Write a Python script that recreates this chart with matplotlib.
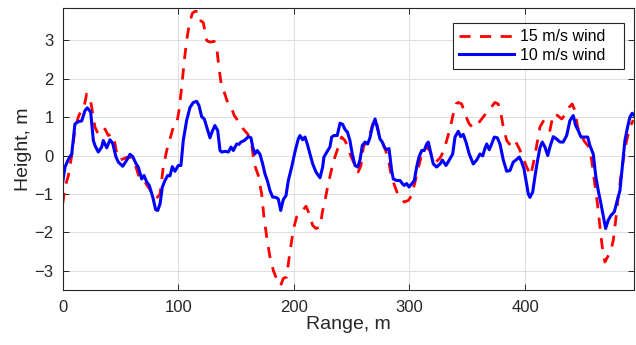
import numpy as np
import matplotlib
matplotlib.use("Agg")
import matplotlib.pyplot as plt

plt.rcParams['font.family'] = ['Liberation Sans', 'DejaVu Sans']

# 10 m/s wind profile (solid blue)
range_10 = [0, 2, 4.9, 7.8, 10.6, 13.5, 16.4, 19.3, 21.3, 24.2, 26.5, 27.9, 30.8, 33.7, 35.1, 38.1,
            40.9, 43.2, 46.1, 48.1, 51.9, 55.4, 58.2, 60.6, 63.4, 65.4, 68.3, 70.3, 72.7, 74.9,
            77.9, 80.4, 82.2, 84.2, 86.2, 88.5, 90.8, 92.8, 94.8, 97.1, 100, 102.3, 104.3, 107.2,
            110.1, 113, 115.9, 117.9, 120.2, 122.5, 124.6, 127.4, 129.4, 131.7, 134.1, 136.1,
            137.5, 140.4, 143.3, 145.6, 147.6, 150.5, 152.5, 154.2, 157.1, 160.6, 162.9, 164.4,
            166.3, 168.3, 170.7, 173, 175, 177, 179.3, 181.6, 184.5, 186.5, 188.6, 190.8, 193.2,
            195.2, 198.1, 200.9, 203.8, 205.3, 207.6, 209.6, 211.6, 213.9, 216.3, 219.1, 222.6,
            224.9, 226, 228.9, 231.2, 232.7, 234.7, 237.5, 239.9, 242.2, 244.2, 246.3, 248.5,
            250.5, 252.9, 255.2, 257.2, 259.2, 261.5, 263.8, 265.8, 267.8, 270.2, 272.5, 274.5,
            276.5, 278.2, 280.3, 282.3, 284.6, 286, 288.9, 291.8, 293.8, 295.5, 297.6, 299.6,
            301.9, 304.2, 306.2, 308.2, 310.6, 312.8, 314.9, 316.3, 318.6, 320.6, 323.5, 326.4,
            328.5, 331.6, 334.4, 337.4, 339.4, 342.2, 344.3, 346.5, 348.9, 351.7, 355.2, 358.1,
            361, 363.3, 365.3, 366.8, 369, 371.1, 373.4, 376, 378.3, 381.2, 384.1, 387, 389.8,
            392.1, 395, 397.1, 399.1, 400.8, 402.8, 404.2, 406.6, 408.6, 410.7, 412.9, 414.9,
            417.2, 419.6, 421.5, 424.4, 427.3, 430.2, 433, 436, 438.8, 441.7, 443.8, 446, 448.4,
            451.2, 454.2, 456.1, 459, 461.1, 463.3, 465.7, 467.6, 469.7, 471.9, 474.3, 477.2,
            480.1, 482.1, 484.1, 486.4, 488.7, 490.7, 492.7, 494.5]
height_10 = [-0.69, -0.30, -0.1, 0.04, 0.82, 0.88, 0.9, 1.17, 1.24, 1.13, 0.39, 0.26, 0.09, 0.22,
             0.39, 0.2, 0.41, 0.32, -0.04, -0.17, -0.28, -0.12, 0.03, -0.03, -0.21, -0.3, -0.61,
             -0.52, -0.69, -0.78, -1.08, -1.41, -1.43, -1.26, -0.82, -0.65, -0.52, -0.53, -0.29,
             -0.41, -0.26, -0.26, 0.39, 0.91, 1.25, 1.38, 1.41, 1.3, 1.01, 0.95, 0.74, 0.46, 0.63,
             0.78, 0.65, 0.13, 0.09, 0.11, 0.09, 0.22, 0.13, 0.3, 0.29, 0.35, 0.39, 0.49, 0.46,
             0.22, 0.04, 0.13, 0.03, -0.22, -0.48, -0.65, -0.91, -1.08, -1.09, -1.13, -1.43,
             -1.15, -1.04, -0.65, -0.3, 0.09, 0.43, 0.52, 0.41, 0.48, 0.3, 0.04, -0.22, -0.43,
             -0.58, -0.3, -0.04, 0.11, 0.22, 0.48, 0.52, 0.52, 0.84, 0.81, 0.68, 0.61, 0.39, 0.04,
             -0.26, -0.3, -0.12, 0.26, 0.35, 0.3, 0.46, 0.74, 0.95, 0.69, 0.43, 0.35, 0.22, 0.15,
             0.18, -0.39, -0.61, -0.65, -0.65, -0.73, -0.78, -0.73, -0.82, -0.74, -0.65, -0.3,
             -0.04, 0.13, 0.13, 0.3, 0.35, 0.04, -0.22, -0.3, -0.22, -0.12, -0.26, -0.12, 0.04,
             0.48, 0.63, 0.49, 0.55, 0.35, 0.04, -0.22, -0.12, 0.04, -0.01, 0.18, 0.3, 0.15, 0.3,
             0.48, 0.46, 0.3, -0.12, -0.41, -0.39, -0.17, -0.12, -0.04, -0.17, -0.35, -0.65, -1.0,
             -1.09, -0.95, -0.54, -0.15, 0.2, 0.35, 0.22, 0.0, 0.22, 0.49, 0.43, 0.35, 0.35, 0.52,
             0.91, 1.04, 0.78, 0.65, 0.48, 0.48, 0.48, 0.26, 0.04, -0.52, -0.91, -1.26, -1.56,
             -1.9, -1.69, -1.56, -1.47, -1.13, -0.91, -0.3, 0.39, 0.74, 1.0, 1.1, 1.04]

# 15 m/s wind profile (dashed red)
range_15 = [0, 2, 4.9, 7.8, 10.6, 13.5, 16.4, 18.4, 20.7, 23.6, 26, 27.9, 30.8, 33.7, 36.6, 39.4,
            42.3, 44.3, 46.7, 49.6, 55.4, 59.7, 63.4, 66.9, 71.2, 74, 78, 81, 84.2, 87, 90, 92.8,
            95.7, 98.6, 100.6, 102.9, 105.2, 107.2, 109.5, 112.1, 114.4, 117.3, 119.6, 121.6,
            124.6, 127.4, 131.1, 133.2, 135.2, 137.5, 139.8, 142.7, 145.6, 148.4, 152.5, 156.2,
            160, 163.5, 165.7, 169.2, 172.1, 174.1, 176.5, 179.3, 182.2, 186.5, 188.6, 190.8,
            193.7, 196, 198.1, 200.1, 202.4, 205.3, 208.1, 210.5, 213.3, 216.3, 219.1, 222.6,
            224.9, 226.9, 229.7, 232.7, 235.5, 238.4, 241.3, 244.2, 247, 249.1, 252.9, 255.6, 258,
            260.1, 263, 265.8, 268.7, 270.8, 273.6, 276.5, 279.4, 281.7, 284, 286, 289.8, 293.3,
            295.5, 299, 301.9, 304.8, 307.1, 310, 312.8, 316.3, 319.7, 322.7, 326.4, 329.2, 332.2,
            335, 337.9, 340.2, 342.2, 345.2, 348, 351.7, 355.2, 358.1, 362.4, 366.8, 371.1, 373.9,
            376.8, 378.9, 381.2, 384.1, 387.5, 391.3, 395, 397.9, 401.4, 404.8, 407.1, 410, 412.9,
            415.7, 418.6, 421.5, 424.4, 428.2, 431.7, 435.1, 438, 440.8, 443.2, 445.5, 448.4,
            451.8, 455.3, 457.6, 459.9, 462.8, 464.8, 466.8, 469.1, 471.4, 474.3, 476.3, 478.4,
            480.6, 482.9, 485.3, 487.9, 490.7, 493.6]
height_15 = [-1.26, -0.82, -0.52, 0, 0.69, 1.0, 1.21, 1.26, 1.6, 1.52, 1.08, 0.74, 0.55, 0.56,
             0.69, 0.52, 0.56, 0.48, 0.04, -0.12, -0.05, -0.05, -0.3, -0.65, -0.69, -0.82, -1.0,
             -1.12, -1.0, -0.3, 0.13, 0.43, 0.74, 0.82, 1.17, 1.77, 2.47, 2.99, 3.42, 3.7, 3.75,
             3.75, 3.5, 3.46, 2.99, 2.95, 2.97, 2.81, 2.29, 1.77, 1.64, 1.38, 1.27, 1.04, 0.87,
             0.69, 0.56, 0.3, -0.22, -0.52, -1.0, -1.6, -2.12, -2.64, -2.99, -3.33, -3.38, -3.2,
             -3.16, -2.64, -2.21, -1.86, -1.6, -1.47, -1.41, -1.32, -1.52, -1.82, -1.9, -1.86,
             -1.43, -1.17, -0.74, -0.35, -0.04, 0.22, 0.48, 0.39, 0.2, 0, -0.26, -0.43, -0.26, 0.22,
             0.39, 0.56, 0.87, 0.95, 0.56, 0.35, 0.13, -0.09, -0.48, -0.69, -1.0, -1.13, -1.21,
             -1.17, -1.04, -0.69, -0.39, -0.04, 0, 0.22, -0.04, -0.17, -0.07, 0.09, 0.39, 0.69,
             1.08, 1.34, 1.38, 1.34, 1.08, 0.82, 0.72, 0.78, 0.95, 1.12, 1.27, 1.38, 1.34, 1.12,
             0.74, 0.39, 0.26, 0.39, 0.18, -0.04, -0.3, -0.52, -0.22, 0.25, 0.74, 0.89, 0.78, 0.65,
             1.08, 1.04, 0.95, 1.08, 1.25, 1.34, 1.17, 0.74, 0.52, 0.35, 0.22, -0.12, -0.65, -1.3,
             -1.86, -2.38, -2.77, -2.64, -2.47, -2.21, -1.69, -1.08, -0.56, -0.04, 0.39, 0.74, 0.92]

x_ticks = [0, 100, 200, 300, 400]
y_ticks = [-3, -2, -1, 0, 1, 2, 3]

fig = plt.figure(figsize=(6.36, 3.45), dpi=100)
ax = fig.add_axes([0.0986, 0.1594, 0.8987, 0.8165])

dark = '#262626'
ax.plot(range_15, height_15, color='red', linestyle='--', dashes=(4.0, 3.4), lw=2.0,
        label='15 m/s wind   ')
ax.plot(range_10, height_10, color='blue', lw=2.2, label='10 m/s wind   ')

ax.set_xlim(0, 494.5)
ax.set_ylim(-3.5, 3.83)
ax.set_xticks(x_ticks)
ax.set_yticks(y_ticks)
ax.grid(True, color='#dedede', lw=0.7)
ax.set_axisbelow(True)

for s in ax.spines.values():
    s.set_color(dark)
    s.set_linewidth(0.8)
ax.tick_params(axis='both', direction='in', top=True, right=True, length=4, width=0.7,
               colors=dark, labelsize=12)
ax.tick_params(axis='x', pad=7)
ax.tick_params(axis='y', pad=6.5)

ax.set_xlabel('Range, m', fontsize=14, color=dark, labelpad=1)
ax.set_ylabel('Height, m', fontsize=14, color=dark, labelpad=2)

leg = ax.legend(loc='upper right', bbox_to_anchor=(0.9826, 0.9468), borderaxespad=0,
                fontsize=11.5, handlelength=3.4, handletextpad=0.37, borderpad=0.37,
                labelspacing=0.23, fancybox=False, framealpha=1)
leg.get_frame().set_edgecolor(dark)
leg.get_frame().set_linewidth(0.8)
for t in leg.get_texts():
    t.set_color('black')

fig.savefig('out.png', dpi=100)
